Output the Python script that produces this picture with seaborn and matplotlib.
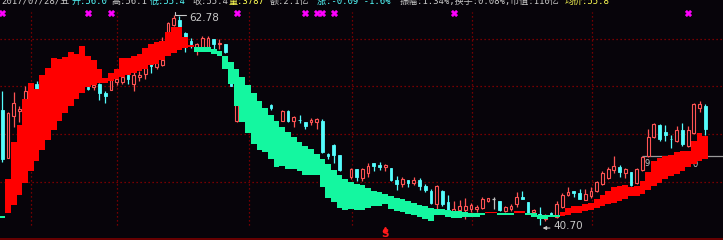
import numpy as np
import pandas as pd
import matplotlib
matplotlib.use("Agg")
import matplotlib.pyplot as plt
import seaborn as sns

# ---------------- data (prices) ----------------
band_upper = [41.65, 45.54, 49.43, 51.21, 53.95, 55.63, 55.00, 56.47, 57.21, 58.26,
              58.15, 58.36, 58.89, 58.68, 59.52, 58.47, 58.05, 57.10, 56.16, 56.68,
              57.10, 58.26, 58.26, 58.47, 58.68, 59.31, 59.73, 59.94, 60.05, 60.99,
              61.52, 61.52, 60.47, 59.63, 59.42, 59.42, 59.42, 59.21, 58.99, 58.47,
              57.84, 57.10, 56.26, 55.42, 54.58, 53.74, 53.00, 52.27, 51.63, 51.00,
              50.48, 49.95, 49.43, 49.01, 48.69, 48.16, 47.64, 47.11, 46.48, 45.96,
              45.54, 45.22, 45.01, 44.90, 44.59, 44.27, 44.17, 43.96, 43.75, 43.54,
              43.43, 43.22, 43.01, 42.80, 42.70, 42.49, 42.38, 42.38, 42.28, 42.17,
              42.17, 42.07, 41.96, 41.96, 41.96, 42.07, 42.07, 41.96, 41.96, 41.96,
              42.17, 42.17, 41.96, 41.91, 41.75, 41.75, 41.75, 41.75, 42.07, 42.49,
              42.70, 42.70, 42.91, 43.01, 43.43, 43.85, 44.27, 44.69, 44.80, 44.90,
              44.69, 44.80, 45.33, 46.27, 47.43, 47.74, 47.95, 48.06, 48.37, 48.43,
              48.53, 49.53, 50.37, 50.06]
band_lower = [41.44, 41.96, 42.80, 43.85, 45.11, 46.38, 47.43, 48.59, 49.64, 50.69,
              51.63, 52.48, 53.21, 53.95, 54.58, 55.21, 55.42, 55.63, 55.63, 55.84,
              56.05, 56.26, 56.47, 56.68, 56.89, 57.10, 57.52, 57.63, 58.05, 58.47,
              58.78, 59.10, 59.31, 59.42, 58.89, 58.89, 58.89, 58.68, 58.47, 57.10,
              55.52, 53.21, 51.53, 50.37, 49.22, 48.59, 48.37, 47.64, 46.80, 46.90,
              46.59, 46.59, 46.38, 45.96, 45.96, 45.96, 44.69, 43.54, 43.12, 42.49,
              42.28, 42.38, 42.28, 42.28, 42.49, 42.70, 42.70, 42.91, 42.38, 42.17,
              42.07, 41.86, 41.75, 41.54, 41.33, 41.12, 41.75, 41.75, 41.54, 41.44,
              41.44, 41.54, 41.54, 41.54, 41.75, 41.91, 41.91, 41.75, 41.75, 41.75,
              41.96, 41.96, 41.75, 41.54, 41.33, 41.33, 41.54, 41.54, 41.65, 41.75,
              41.96, 41.96, 42.12, 42.28, 42.44, 42.65, 42.86, 43.01, 43.22, 43.43,
              43.70, 43.80, 44.01, 44.33, 44.75, 45.11, 45.54, 45.80, 46.06, 46.38,
              46.75, 47.11, 47.38, 47.64]
# trend state of the band, as runs read from left to right (R = up / red, G = down / green)
band_runs = [("G", 1), ("R", 33), ("G", 51), ("R", 2), ("G", 3), ("R", 2), ("G", 6), ("R", 26)]

opens = [52.79, 47.74, 52.16, 52.69, 53.95, 53.84, 55.52, 54.68, 55.31, 55.95,
         55.21, 55.95, 56.47, 55.52, 56.05, 55.21, 55.21, 55.52, 54.58, 54.89,
         55.74, 55.74, 56.47, 55.52, 56.26, 56.58, 57.63, 57.31, 57.52, 60.99,
         61.73, 62.25, 60.89, 60.05, 59.42, 59.31, 59.42, 60.26, 59.73, 59.73,
         57.52, 51.63, 55.11, 53.84, 52.27, 52.79, 52.58, 53.32, 51.42, 51.63,
         52.69, 51.63, 51.79, 51.53, 51.58, 51.53, 51.63, 48.16, 49.11, 48.06,
         45.43, 45.75, 46.59, 45.64, 46.17, 47.22, 47.01, 46.80, 46.69, 45.43,
         45.01, 45.43, 45.11, 45.43, 44.80, 44.27, 42.91, 44.27, 43.12, 42.17,
         42.28, 42.28, 42.38, 42.38, 42.49, 43.22, 43.43, 43.22, 42.17, 42.38,
         42.91, 43.64, 43.12, 42.07, 41.86, 41.33, 41.96, 41.54, 42.59, 43.85,
         44.27, 44.06, 43.33, 43.75, 44.27, 45.01, 45.64, 46.48, 46.80, 46.17,
         46.27, 45.11, 46.48, 47.95, 49.95, 51.21, 50.48, 49.79, 49.53, 50.69,
         49.01, 50.37, 53.00, 53.21]
closes = [47.64, 52.48, 53.53, 52.90, 54.79, 55.11, 54.68, 55.52, 55.95, 55.31,
          56.16, 56.58, 55.74, 56.16, 55.42, 55.00, 55.42, 54.58, 54.26, 55.95,
          56.05, 56.26, 56.05, 56.47, 56.47, 57.21, 57.42, 57.73, 58.05, 61.94,
          62.46, 61.52, 60.47, 59.73, 59.73, 60.36, 60.36, 59.73, 59.84, 58.89,
          55.31, 53.32, 53.63, 52.58, 53.00, 51.74, 51.95, 53.00, 51.00, 52.69,
          51.63, 52.06, 51.69, 51.11, 51.69, 51.85, 48.37, 47.95, 48.06, 46.48,
          45.01, 46.59, 45.75, 46.59, 46.90, 46.90, 46.80, 47.01, 45.43, 45.01,
          45.54, 45.11, 45.43, 44.80, 44.38, 43.01, 44.80, 42.91, 42.28, 42.38,
          42.70, 42.70, 42.80, 42.59, 43.43, 43.54, 43.43, 42.28, 42.59, 42.70,
          43.64, 43.43, 41.96, 42.28, 41.75, 41.75, 41.75, 42.91, 43.85, 44.17,
          44.06, 43.43, 43.96, 44.27, 45.22, 46.17, 46.59, 46.90, 46.27, 46.59,
          44.90, 46.59, 47.85, 49.95, 51.32, 49.74, 50.16, 49.69, 50.69, 49.22,
          50.69, 53.42, 53.42, 50.79]
highs = [54.79, 52.58, 54.68, 53.21, 55.31, 55.42, 55.84, 55.74, 56.26, 56.16,
         56.47, 56.79, 56.68, 56.37, 56.26, 55.31, 55.52, 55.63, 54.79, 56.05,
         56.16, 56.37, 56.58, 56.89, 56.89, 57.42, 57.73, 57.94, 60.47, 62.04,
         62.78, 62.67, 60.99, 60.36, 59.84, 60.57, 60.57, 60.26, 60.26, 59.73,
         57.84, 53.84, 55.52, 54.26, 53.63, 53.21, 52.90, 53.42, 51.63, 52.79,
         52.79, 52.16, 52.27, 51.53, 51.95, 51.95, 51.85, 48.27, 49.22, 48.06,
         45.54, 46.69, 46.59, 46.69, 47.22, 47.22, 47.32, 47.11, 46.69, 45.85,
         45.75, 45.43, 45.75, 45.64, 45.01, 44.48, 44.90, 44.38, 43.85, 43.22,
         43.33, 43.54, 43.01, 42.80, 43.64, 43.54, 43.64, 43.22, 42.70, 42.91,
         44.17, 44.27, 43.12, 42.38, 42.59, 41.86, 42.07, 43.22, 44.06, 44.69,
         44.27, 44.48, 44.48, 44.69, 45.33, 46.38, 46.80, 47.95, 47.01, 46.69,
         46.27, 46.69, 47.95, 50.79, 51.42, 51.32, 51.21, 50.16, 51.11, 51.42,
         51.11, 53.53, 53.74, 53.42]
lows = [47.32, 47.74, 51.00, 51.53, 53.84, 53.63, 54.37, 54.37, 55.11, 55.00,
        55.00, 55.74, 55.52, 55.31, 55.21, 54.89, 54.89, 53.84, 53.53, 54.89,
        55.42, 55.52, 55.52, 54.79, 55.84, 56.05, 56.68, 57.10, 57.42, 60.89,
        61.62, 61.41, 58.89, 59.31, 58.57, 59.31, 59.31, 59.21, 59.21, 58.78,
        55.31, 51.53, 53.21, 52.16, 51.74, 51.11, 51.53, 52.79, 50.69, 51.63,
        51.53, 51.00, 51.42, 50.79, 51.21, 50.79, 48.27, 47.64, 47.22, 46.38,
        44.80, 45.54, 45.33, 45.33, 45.75, 46.38, 46.48, 46.38, 45.33, 44.38,
        44.69, 44.69, 44.90, 44.38, 44.17, 42.91, 42.38, 42.70, 42.17, 42.07,
        42.17, 41.33, 42.07, 42.07, 42.38, 43.12, 42.38, 42.17, 42.07, 42.17,
        42.59, 43.43, 41.86, 41.96, 40.70, 41.12, 41.65, 41.44, 42.49, 43.75,
        43.64, 43.43, 43.33, 43.54, 44.17, 44.90, 45.54, 46.17, 45.75, 45.64,
        44.80, 45.01, 46.38, 47.85, 49.85, 49.53, 49.53, 48.80, 49.43, 49.01,
        48.90, 50.27, 52.58, 50.16]

grid_prices = [60.26, 55.31, 50.27, 45.22]          # dotted horizontal levels
month_bars = [5, 20, 43, 61, 82, 103]               # dotted vertical separators (bar index)
signal_bars = [0, 15, 19, 41, 53, 55, 56, 58, 79, 120]  # magenta x markers
high_bar, high_value = 30, 62.78
low_bar, low_value = 94, 40.70
sell_bar = 67
ref_price, ref_start = 47.95, 112

header = [("2017/07/28/五", "#C8C8C8"), ("开:56.0", "#54FCFC"), ("高:56.1", "#C8C8C8"),
          ("低:55.4", "#54FCFC"), ("收:55.4", "#C8C8C8"), ("量:3787", "#FFFF54"),
          ("额:2.1亿", "#C8C8C8"), ("涨:-0.09 -1.6%", "#54FCFC"),
          ("振幅:1.34%,换手:0.08%,市值:110亿", "#C8C8C8"), ("均价:55.8", "#FFFF54")]
header_x = [1, 72, 112, 150, 192, 229, 270, 317, 400, 565]

# ---------------- style ----------------
BG = "#07040A"
RED_BAND = "#FF0000"
GREEN_BAND = "#14F7A0"
UP = "#FF5454"
DOWN = "#54FCFC"
DOJI = "#C0C0C0"
GRID = "#9A0000"
TXT = "#C8C8C8"

sns.set_theme(style="dark", rc={"axes.facecolor": BG, "figure.facecolor": BG,
                                "axes.grid": False})
plt.rcParams["font.family"] = ["DejaVu Sans", "Noto Sans CJK SC"]

W, H = 723, 240
fig = plt.figure(figsize=(W / 100, H / 100), dpi=100)
ax = fig.add_axes([0, 0, 1, 1])
ax.set_facecolor(BG)
for s in ax.spines.values():
    s.set_visible(False)
ax.set_xticks([])
ax.set_yticks([])

n = len(opens)
x = np.arange(n)
step = 5.7154  # px per bar
x0px = 2.3
ax.set_xlim(-x0px / step, (W - x0px) / step)
ppx = 0.105143
ytop = 62.78 + 15 * ppx
ax.set_ylim(ytop - H * ppx, ytop)

# grid
for gp in grid_prices:
    ax.axhline(gp, color=GRID, lw=0.9, ls=(0, (1, 2.2)), zorder=1)
for mb in month_bars:
    ax.axvline(mb + 0.1, ymin=15 / H, ymax=1 - 12 / H, color=GRID, lw=0.9,
               ls=(0, (1, 2.2)), zorder=1)
ax.plot([0, 1], [0.6 / H, 0.6 / H], transform=ax.transAxes, color="#7A0000", lw=1.2, zorder=6)

# reference (gray) line and partly hidden labels
ax.hlines(ref_price, ref_start, n + 3, color="#9A9A9A", lw=0.9, zorder=1.5)
ax.text(112.8, 47.2, "9", color=TXT, fontsize=6, ha="center", va="center", zorder=1.5)
ax.text(121.2, 47.1, "0", color=TXT, fontsize=6, ha="center", va="center", zorder=1.5)

# candles
o = np.array(opens); c = np.array(closes); hi = np.array(highs); lo = np.array(lows)
cols = np.where(c > o, UP, np.where(c < o, DOWN, DOJI))
ax.vlines(x, lo, hi, colors=cols, lw=0.9, zorder=2)
bw = 0.48
for i in range(n):
    b = min(o[i], c[i]); h = abs(c[i] - o[i])
    if c[i] > o[i]:
        ax.bar(i, max(h, 0.08), bottom=b, width=bw, facecolor=BG, edgecolor=UP,
               linewidth=0.8, zorder=3)
    elif c[i] < o[i]:
        ax.bar(i, max(h, 0.08), bottom=b, width=bw, facecolor=DOWN, edgecolor=DOWN,
               linewidth=0.6, zorder=3)
    else:
        ax.hlines(o[i], i - bw / 2, i + bw / 2, color=DOJI, lw=0.9, zorder=3)

# trend band
band_codes = []
for code, cnt in band_runs:
    band_codes += [code] * cnt
band_cols = [RED_BAND if k == "R" else GREEN_BAND for k in band_codes]
up_arr = np.array(band_upper); lo_arr = np.array(band_lower)
ax.bar(x, up_arr - lo_arr, bottom=lo_arr, width=1.0, color=band_cols,
       linewidth=0, antialiased=False, zorder=4)

# signal markers
sig = pd.DataFrame({"bar": signal_bars, "y": [ytop - 12.5 * ppx] * len(signal_bars)})
sns.scatterplot(data=sig, x="bar", y="y", ax=ax, marker="X", s=22, color="#FF00FF",
                edgecolor="#FF00FF", linewidth=0.3, zorder=6, legend=False)

# high / low labels
yh = high_value - 0.05
ax.plot([high_bar + 0.15, high_bar + 2.2], [yh, yh], color=TXT, lw=0.8, zorder=6)
ax.plot([high_bar + 0.15, high_bar + 0.15], [yh, yh + 0.4], color=TXT, lw=0.8, zorder=6)
ax.text(high_bar + 2.7, high_value - 0.3, f"{high_value:.2f}", color=TXT, fontsize=7.5,
        ha="left", va="center", zorder=6)
yl = low_value - 0.32
ax.annotate("", xy=(low_bar + 0.05, yl), xytext=(low_bar + 2.3, yl),
            arrowprops=dict(arrowstyle="-|>", color=TXT, lw=0.8, mutation_scale=5), zorder=6)
ax.text(low_bar + 2.35, low_value - 0.06, f"{low_value:.2f}", color=TXT, fontsize=7.5,
        ha="left", va="center", zorder=6)

# sell signal
ax.plot([sell_bar - 0.1], [ytop - 228.5 * ppx], marker="^", ms=3, color="#FF1A1A",
        mec="#FF1A1A", zorder=6)
ax.text(sell_bar - 0.1, ytop - 234 * ppx, "S", color="#FF1A1A", fontsize=7.5,
        fontweight="bold", ha="center", va="center", zorder=6)

# header line, clipped by the top edge as in the reference
for (txt, col), px in zip(header, header_x):
    fig.text(px / W, 1 - 4.0 / H, txt, color=col, fontsize=6.5, ha="left",
             va="baseline", family=["DejaVu Sans Mono", "Noto Sans CJK SC"])

fig.savefig("out.png", dpi=100, facecolor=BG)
